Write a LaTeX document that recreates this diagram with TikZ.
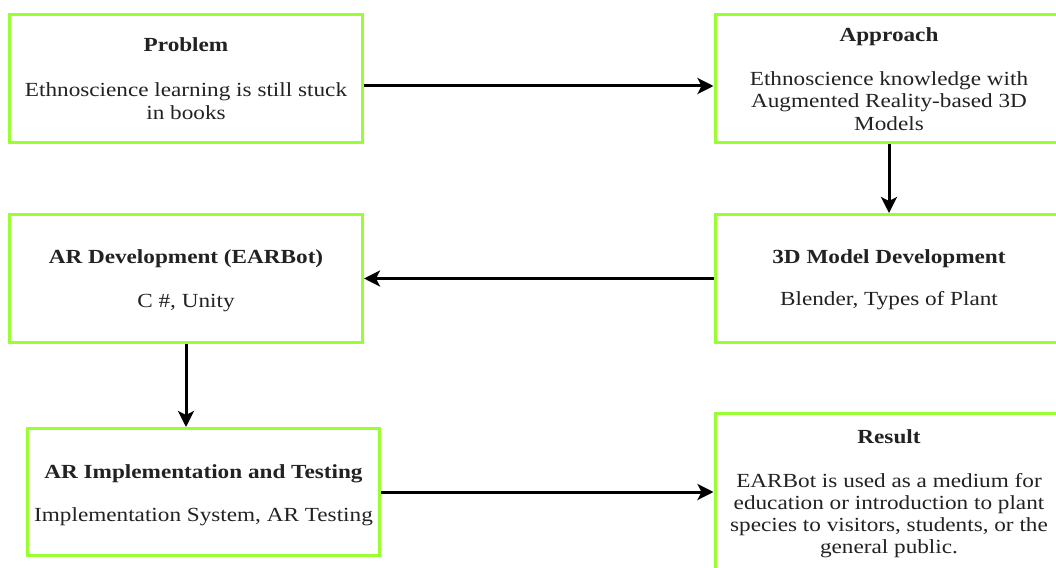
\documentclass[tikz,border=0pt]{standalone}
\usepackage{fontspec}
\setmainfont{Liberation Serif}[FakeStretch=1.16]
\usetikzlibrary{arrows.meta}
\definecolor{boxgreen}{RGB}{153,255,51}
\definecolor{txt}{RGB}{34,34,34}
\tikzset{
  box/.style={draw=boxgreen, line width=3pt, fill=white, inner sep=0pt},
  ttl/.style={anchor=base, inner sep=0pt, font=\fontsize{20}{22}\selectfont\bfseries, text=txt},
  bdy/.style={anchor=base, inner sep=0pt, align=center, font=\fontsize{20}{22}\selectfont, text=txt},
  conn/.style={line width=3pt, -{Stealth[length=16pt, width=16pt, inset=4pt]}},
}
\begin{document}
\begin{tikzpicture}[x=1pt, y=-1pt]
\useasboundingbox (0,0) rectangle (1056,567);
\clip (0,0) rectangle (1056,567);
% boxes
\node[box, minimum width=353pt, minimum height=128pt] (prob) at (186,78.5) {};
\node[box, minimum width=348pt, minimum height=128pt] (appr) at (889,78.5) {};
\node[box, minimum width=348pt, minimum height=128pt] (model) at (889,278.5) {};
\node[box, minimum width=353pt, minimum height=128pt] (ardev) at (186,278.5) {};
\node[box, minimum width=352pt, minimum height=127pt] (arimpl) at (203.5,492) {};
\node[box, minimum width=348pt, minimum height=170pt] (result) at (889,498) {};
% texts (multi-line nodes: base = last line)
\node[ttl] (probT) at (186,52) {Problem};
\node[bdy] (probB) at (186,119) {Ethnoscience learning is still stuck\\in books};
\node[ttl] (apprT) at (889,42) {Approach};
\node[bdy] (apprB) at (889,130) {Ethnoscience knowledge with\\Augmented Reality-based 3D\\Models};
\node[ttl] (modelT) at (889,263) {3D Model Development};
\node[bdy] (modelB) at (889,305) {Blender, Types of Plant};
\node[ttl] (ardevT) at (186,263) {AR Development (EARBot)};
\node[bdy] (ardevB) at (186,307) {C \#, Unity};
\node[ttl] (arimplT) at (203.5,478) {AR Implementation and Testing};
\node[bdy] (arimplB) at (203.5,521) {Implementation System, AR Testing};
\node[ttl] (resultT) at (889,443) {Result};
\node[bdy] (resultB) at (889,553) {EARBot is used as a medium for\\education or introduction to plant\\species to visitors, students, or the\\general public.};
% connectors
\draw[conn] ([yshift=-7.5pt]prob.east) -- ([yshift=-7.5pt]appr.west);
\draw[conn] (appr.south) -- (model.north);
\draw[conn] (model.west) -- (ardev.east);
\draw[conn] (ardev.south) -- (ardev.south |- arimpl.north);
\draw[conn] (arimpl.east) -- (arimpl.east -| result.west);
\end{tikzpicture}
\end{document}
